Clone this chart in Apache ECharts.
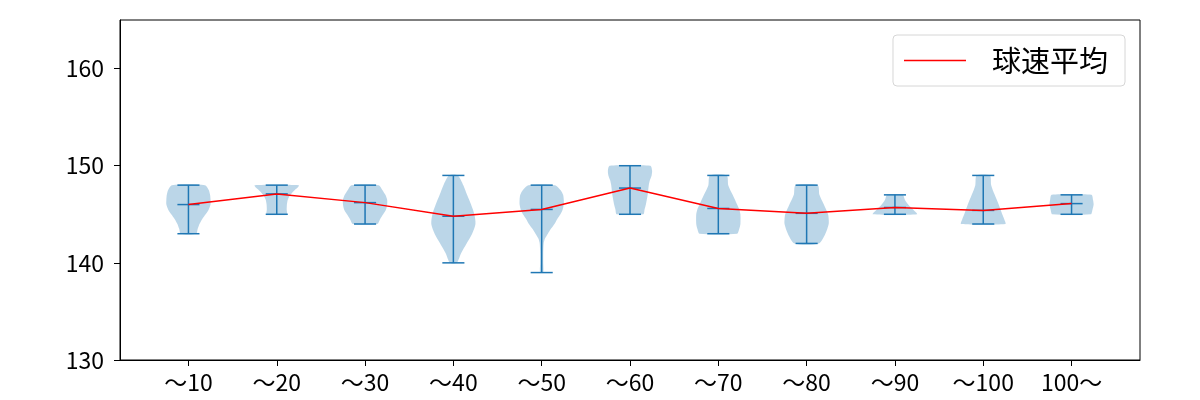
<!DOCTYPE html>
<html><head><meta charset="utf-8">
<script src="https://cdn.jsdelivr.net/npm/echarts@6/dist/echarts.min.js"></script>
<style>html,body{margin:0;padding:0;background:#fff}#c{width:1200px;height:400px}</style>
</head><body><div id="c"></div>
<script>
const categories = ['～10','～20','～30','～40','～50','～60','～70','～80','～90','～100','100～'];
const minVals  = [143,145,144,140,139,145,143,142,145,144,145];
const maxVals  = [148,148,148,149,148,150,149,148,147,149,147];
const meanVals = [146.0,147.1,146.2,144.8,145.5,147.7,145.6,145.1,145.7,145.4,146.1];
const yTicks = [130,140,150,160];
// relative density profiles [speed, density] (bottom to top)
const dens1  = [[143,0.35],[143.5,0.42],[144,0.5],[144.5,0.62],[145,0.78],[145.5,0.92],[146,1.0],[146.5,1.0],[147,0.98],[147.5,0.92],[148,0.75]];
const dens2  = [[145,0.45],[145.5,0.45],[146,0.46],[146.5,0.5],[147,0.62],[147.5,0.82],[147.75,0.95],[148,1.0]];
const dens3  = [[144,0.55],[144.5,0.68],[145,0.82],[145.5,0.95],[146,1.0],[146.5,1.0],[147,0.92],[147.5,0.78],[148,0.62]];
const dens4  = [[140,0.15],[141,0.35],[142,0.6],[143,0.85],[144,1.0],[145,0.95],[146,0.8],[147,0.62],[148,0.45],[149,0.2]];
const dens5  = [[139,0.07],[140,0.07],[141,0.07],[142,0.09],[142.5,0.15],[143,0.28],[143.5,0.42],[144,0.58],[144.5,0.7],[145,0.85],[145.5,0.95],[146,1.0],[146.5,1.0],[147,0.97],[147.5,0.85],[148,0.6]];
const dens6  = [[145,0.6],[145.5,0.66],[146,0.72],[147,0.8],[148,0.85],[148.5,0.9],[149,0.98],[149.5,1.0],[150,0.92]];
const dens7  = [[143,0.85],[143.5,0.95],[144,1.0],[145,1.0],[145.5,0.95],[146,0.85],[147,0.65],[148,0.45],[149,0.38]];
const dens8  = [[142,0.55],[143,0.85],[144,1.0],[144.5,1.0],[145,0.97],[146,0.78],[147,0.58],[148,0.5]];
const dens9  = [[145,1.0],[145.5,0.82],[146,0.6],[146.5,0.45],[147,0.35]];
const dens10 = [[144,1.0],[144.5,0.95],[145,0.86],[146,0.7],[147,0.52],[148,0.36],[149,0.3]];
const dens11 = [[145,0.87],[145.5,0.95],[146,1.0],[146.5,0.97],[147,0.9]];
const densities = [dens1,dens2,dens3,dens4,dens5,dens6,dens7,dens8,dens9,dens10,dens11];

const positions = categories.map((c,i)=>i+1);
const HALF = 0.25, CAP = 0.125;
const blue = '#1f77b4';
const FONT = 'Noto Sans CJK JP';

const chart = echarts.init(document.getElementById('c'), null, {renderer:'canvas'});
chart.setOption({
  animation:false,
  grid:{left:120,right:60,top:20,bottom:40,show:true,borderColor:'#000',borderWidth:1,backgroundColor:'transparent'},
  legend:{
    data:[{name:'球速平均',icon:'rect'}],
    right:75, top:35,
    orient:'vertical',
    backgroundColor:'#fff',
    borderColor:'#d6d6d6', borderWidth:1, borderRadius:4,
    padding:[11,17,11,11],
    itemWidth:62, itemHeight:1.5,
    textStyle:{fontSize:29,color:'#000',fontFamily:FONT,padding:[0,0,0,21]}
  },
  xAxis:{
    type:'value', min:0.225, max:11.775,
    axisLine:{show:true,onZero:false,lineStyle:{color:'#000',width:1}},
    splitLine:{show:false},
    axisTick:{show:true,length:6,customValues:positions,lineStyle:{color:'#000'}},
    axisLabel:{customValues:positions,fontSize:23,color:'#000',margin:11,fontFamily:FONT,
      formatter:v=>categories[Math.round(v)-1]||''}
  },
  yAxis:{
    type:'value', min:130, max:165,
    axisLine:{show:true,onZero:false,lineStyle:{color:'#000',width:1}},
    splitLine:{show:false},
    axisTick:{show:true,length:6,customValues:yTicks,lineStyle:{color:'#000'}},
    axisLabel:{customValues:yTicks,fontSize:23,color:'#000',margin:16,fontFamily:FONT}
  },
  series:[
    {
      type:'custom', name:'violin', silent:true, z:2,
      data:positions.map((p,i)=>[p,minVals[i],maxVals[i]]),
      renderItem:(params,api)=>{
        const i=params.dataIndex, p=api.value(0), d=densities[i];
        const left=d.map(([y,w])=>api.coord([p-w*HALF,y]));
        const right=d.slice().reverse().map(([y,w])=>api.coord([p+w*HALF,y]));
        return {type:'polygon',shape:{points:left.concat(right),smooth:0.25},
           style:{fill:'rgba(31,119,180,0.3)',stroke:null}};
      }
    },
    {
      type:'custom', name:'ranges', silent:true, z:3,
      data:positions.map((p,i)=>[p,minVals[i],maxVals[i],meanVals[i]]),
      renderItem:(params,api)=>{
        const p=api.value(0);
        const st={stroke:blue,lineWidth:1.5};
        const seg=(x1,y1,x2,y2)=>{const a=api.coord([x1,y1]),b=api.coord([x2,y2]);
          return {type:'line',shape:{x1:a[0],y1:a[1],x2:b[0],y2:b[1]},style:st};};
        return {type:'group',children:[
          seg(p,api.value(1),p,api.value(2)),
          seg(p-CAP,api.value(1),p+CAP,api.value(1)),
          seg(p-CAP,api.value(2),p+CAP,api.value(2)),
          seg(p-CAP,api.value(3),p+CAP,api.value(3))
        ]};
      }
    },
    {
      type:'line', name:'球速平均', z:5,
      data:positions.map((p,i)=>[p,meanVals[i]]),
      symbol:'none', showSymbol:false,
      lineStyle:{color:'#ff0000',width:1.5},
      itemStyle:{color:'#ff0000'}
    }
  ]
});
</script></body></html>
